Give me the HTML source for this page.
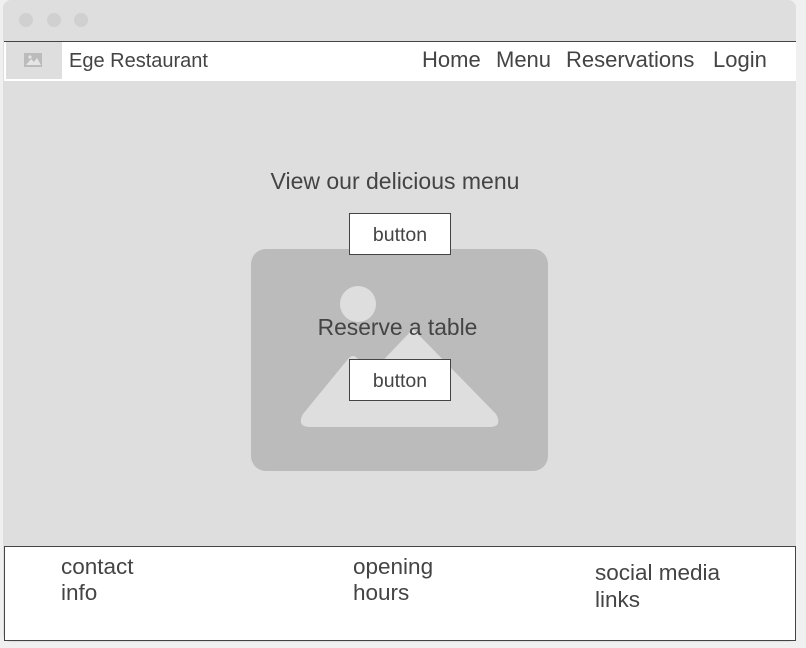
<!DOCTYPE html>
<html><head><style>
body{margin:0;width:806px;height:648px;background:#f0f0f0;font-family:"Liberation Sans",sans-serif;color:#444;position:relative;overflow:hidden}
.a{position:absolute}
.btn{position:absolute;background:#fff;border:1px solid #444;box-sizing:border-box;font-size:19.5px;text-align:center;line-height:42px;width:102px;height:42px;left:349px}
.n{position:absolute;top:47px;font-size:22px}
</style></head><body>
<div class="a" style="left:3px;top:0;width:793px;height:642px;background:#dedede;border-radius:8px"></div>
<div class="a" style="left:19px;top:13px;width:14px;height:14px;border-radius:50%;background:#d0d0d0"></div>
<div class="a" style="left:47px;top:13px;width:14px;height:14px;border-radius:50%;background:#d0d0d0"></div>
<div class="a" style="left:74px;top:13px;width:14px;height:14px;border-radius:50%;background:#d0d0d0"></div>
<div class="a" style="left:4px;top:41px;width:792px;height:39px;background:#fff;border-top:1px solid #444"></div>
<div class="a" style="left:6px;top:42px;width:56px;height:37px;background:#dedede"></div>
<svg class="a" style="left:24px;top:53px" width="18" height="14"><rect width="18" height="14" fill="#bbb"/><path d="M2,12 L7,6 L10,9 L13,5 L17,12Z" fill="#e5e5e5"/><circle cx="6" cy="4" r="1.6" fill="#e5e5e5"/></svg>
<div class="a" style="left:69px;top:50px;font-size:20px">Ege Restaurant</div>
<div class="n" style="left:422px">Home</div>
<div class="n" style="left:496px">Menu</div>
<div class="n" style="left:566px">Reservations</div>
<div class="n" style="left:713px">Login</div>
<svg class="a" style="left:251px;top:249px" width="297" height="222"><rect width="297" height="222" rx="15" fill="#bbb"/><circle cx="107" cy="55" r="18" fill="#dedede"/><path d="M52,165 L97,110 Q102,104 107,110 L120,124 L162,80 L245,165 Q252,178 238,178 L60,178 Q45,178 52,165Z" fill="#dedede"/></svg>
<div class="a" style="left:0;width:790px;top:168px;text-align:center;font-size:23px">View our delicious menu</div>
<div class="btn" style="top:213px">button</div>
<div class="a" style="left:0;width:795px;top:314px;text-align:center;font-size:22.8px">Reserve a table</div>
<div class="btn" style="top:359px">button</div>
<div class="a" style="left:4px;top:546px;width:792px;height:95px;background:#fff;border:1px solid #444;box-sizing:border-box"></div>
<div class="a" style="left:61px;top:554px;font-size:22.5px;line-height:26px">contact<br>info</div>
<div class="a" style="left:353px;top:554px;font-size:22.5px;line-height:26px">opening<br>hours</div>
<div class="a" style="left:595px;top:559px;font-size:22.5px;line-height:27px">social media<br>links</div>
</body></html>
